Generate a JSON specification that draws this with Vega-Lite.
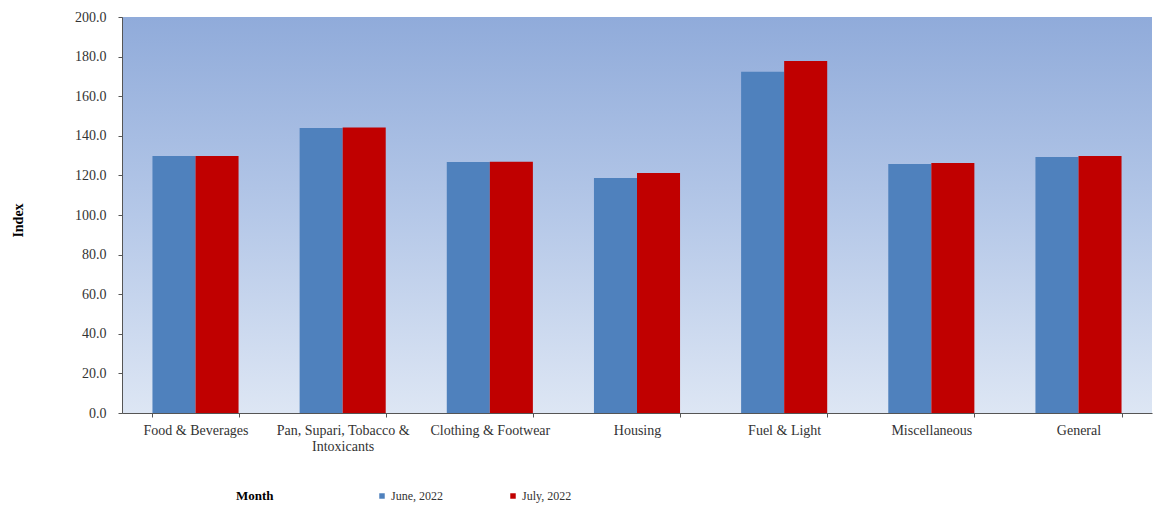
{
  "$schema": "https://vega.github.io/schema/vega-lite/v6.json",
  "width": 1030,
  "height": 396,
  "autosize": {"type": "none"},
  "padding": {"left": 122, "top": 17, "right": 8, "bottom": 94},
  "background": "#ffffff",
  "config": {
    "font": "Liberation Serif",
    "view": {
      "stroke": null,
      "fill": {
        "gradient": "linear",
        "x1": 0, "y1": 0, "x2": 0, "y2": 1,
        "stops": [
          {"offset": 0, "color": "#90ABDA"},
          {"offset": 0.5, "color": "#B5C8E8"},
          {"offset": 1, "color": "#DDE6F4"}
        ]
      }
    },
    "axis": {
      "labelFont": "Liberation Serif",
      "labelFontSize": 14,
      "labelColor": "#333333",
      "domainColor": "#555555",
      "tickColor": "#555555",
      "grid": false
    }
  },
  "data": {
    "values": [
      {"category": "Food & Beverages", "month": "June, 2022", "value": 129.8},
      {"category": "Food & Beverages", "month": "July, 2022", "value": 129.8},
      {"category": "Pan, Supari, Tobacco & Intoxicants", "month": "June, 2022", "value": 144.0},
      {"category": "Pan, Supari, Tobacco & Intoxicants", "month": "July, 2022", "value": 144.2},
      {"category": "Clothing & Footwear", "month": "June, 2022", "value": 126.8},
      {"category": "Clothing & Footwear", "month": "July, 2022", "value": 126.9},
      {"category": "Housing", "month": "June, 2022", "value": 118.7},
      {"category": "Housing", "month": "July, 2022", "value": 121.2},
      {"category": "Fuel & Light", "month": "June, 2022", "value": 172.4},
      {"category": "Fuel & Light", "month": "July, 2022", "value": 177.8},
      {"category": "Miscellaneous", "month": "June, 2022", "value": 125.8},
      {"category": "Miscellaneous", "month": "July, 2022", "value": 126.3},
      {"category": "General", "month": "June, 2022", "value": 129.3},
      {"category": "General", "month": "July, 2022", "value": 129.8}
    ]
  },
  "mark": {"type": "bar"},
  "encoding": {
    "x": {
      "field": "category",
      "type": "nominal",
      "sort": null,
      "scale": {"paddingInner": 0.415, "paddingOuter": 0.207},
      "axis": {
        "title": null,
        "labelAngle": 0,
        "tickBand": "extent",
        "tickSize": 4,
        "labelPadding": 6,
        "labelLimit": 0,
        "labelLineHeight": 16,
        "labelExpr": "datum.label == 'Pan, Supari, Tobacco & Intoxicants' ? ['Pan, Supari, Tobacco &', 'Intoxicants'] : datum.label"
      }
    },
    "xOffset": {
      "field": "month",
      "type": "nominal",
      "sort": ["June, 2022", "July, 2022"],
      "scale": {"paddingInner": 0, "paddingOuter": 0}
    },
    "y": {
      "field": "value",
      "type": "quantitative",
      "scale": {"domain": [0, 200], "nice": false},
      "axis": {
        "title": "Index",
        "titleFont": "Liberation Serif",
        "titleFontSize": 14,
        "titleFontWeight": "bold",
        "titleColor": "#000000",
        "titleX": -104,
        "titleY": 203,
        "titleAngle": -90,
        "titleAlign": "center",
        "titleBaseline": "middle",
        "values": [0, 20, 40, 60, 80, 100, 120, 140, 160, 180, 200],
        "format": ".1f",
        "tickSize": 4,
        "labelPadding": 12
      }
    },
    "color": {
      "field": "month",
      "type": "nominal",
      "sort": ["June, 2022", "July, 2022"],
      "scale": {"domain": ["June, 2022", "July, 2022"], "range": ["#4F81BD", "#C00000"]},
      "legend": {
        "title": "Month",
        "orient": "none",
        "legendX": 114,
        "legendY": 473,
        "direction": "horizontal",
        "titleOrient": "left",
        "titleFont": "Liberation Serif",
        "titleFontSize": 13,
        "titleFontWeight": "bold",
        "titleColor": "#000000",
        "titlePadding": 102,
        "labelFont": "Liberation Serif",
        "labelFontSize": 12,
        "labelColor": "#333333",
        "symbolType": "square",
        "symbolSize": 30,
        "symbolStrokeWidth": 0,
        "labelOffset": 3,
        "columnPadding": 64
      }
    }
  }
}
